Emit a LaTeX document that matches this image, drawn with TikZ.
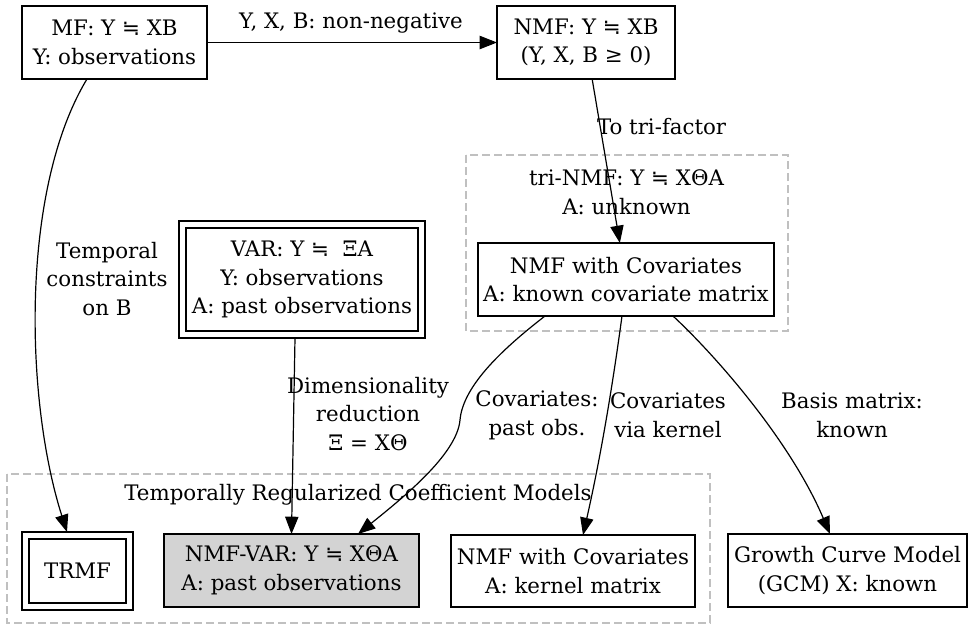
\documentclass[tikz,border=0pt]{standalone}
\usepackage{fontspec}
\setmainfont{DejaVu Serif}
\newfontfamily\symfont{DejaVu Sans}
\newcommand{\apx}{{\symfont ≒}}
\usetikzlibrary{arrows.meta,calc}
\definecolor{clgray}{HTML}{C0C0C0}
\definecolor{boxgray}{HTML}{D3D3D3}
\begin{document}
\begin{tikzpicture}[x=0.75pt,y=-0.75pt,
  every node/.style={font=\fontsize{16pt}{21.5pt}\selectfont, align=center, inner sep=0pt, outer sep=0pt},
  box/.style={draw, line width=0.9pt, rectangle},
  dbox/.style={draw, line width=0.9pt, rectangle, double, double distance=4.3pt},
  cluster/.style={draw=clgray, line width=0.8pt, dash pattern=on 6pt off 3pt},
  arr/.style={line width=0.9pt, -{Triangle[length=13pt,width=10pt]}},
  lbl/.style={}
]
\useasboundingbox (0,0) rectangle (971,626);
% clusters
\draw[cluster] (466,155) rectangle (788,331);
\draw[cluster] (7,474) rectangle (710,623);
\node[lbl] (trilbl) at (626.5,192.5) {tri-NMF: Y \apx{} XΘA\\A: unknown};
\node[lbl] (trcmlbl) at (358,495) {Temporally Regularized Coefficient Models};
% nodes
\node[box, minimum width=185*0.75pt, minimum height=73*0.75pt] (mf) at (114.5,42.5) {MF: Y \apx{} XB\\Y: observations};
\node[box, minimum width=178*0.75pt, minimum height=73*0.75pt] (nmf) at (586,42.5) {NMF: Y \apx{} XB\\(Y, X, B ≥ 0)};
\node[box, minimum width=296*0.75pt, minimum height=73*0.75pt] (nmfcov) at (626,279.5) {NMF with Covariates\\A: known covariate matrix};
\node[dbox, minimum width=239*0.75pt, minimum height=110*0.75pt] (var) at (302,279.5) {VAR: Y \apx{}\ \ ΞA\\Y: observations\\A: past observations};
\node[dbox, minimum width=104*0.75pt, minimum height=71*0.75pt] (trmf) at (77.5,571) {TRMF};
\node[box, fill=boxgray, minimum width=255*0.75pt, minimum height=73*0.75pt] (nmfvar) at (291.5,570.5) {NMF-VAR: Y \apx{} XΘA\\A: past observations};
\node[box, minimum width=244*0.75pt, minimum height=72*0.75pt] (kernel) at (573,571) {NMF with Covariates\\A: kernel matrix};
\node[box, minimum width=239*0.75pt, minimum height=73*0.75pt] (gcm) at (847.5,570.5) {Growth Curve Model\\(GCM) X: known};
% edges
\draw[arr] (mf) -- (nmf);
\node[lbl] (l1) at (351,23) {Y, X, B: non-negative};
\draw[arr] (nmf) -- (nmfcov);
\node[lbl, anchor=west] (l2) at (597,127) {To tri-factor};
\draw[arr] ($(mf.south)+(-27.5,0)$) .. controls +(-67,111) and +(-42,-132) .. ($(trmf.north)+(-10.5,-3.5)$);
\node[lbl] (l3) at (107,279) {Temporal\\constraints\\on B};
\draw[arr] ($(var.south)+(-7,3.5)$) -- (nmfvar.north);
\node[lbl] (l4) at (368,414) {Dimensionality\\reduction\\Ξ = XΘ};
\draw[arr] ($(nmfcov.south)+(-81,0)$) .. controls (505,347) and (463,385) .. (460,420) .. controls (457,455) and (400,500) .. ($(nmfvar.north)+(66.5,0)$);
\node[lbl] (l5) at (537,415) {Covariates:\\past obs.};
\draw[arr] ($(nmfcov.south)+(-4,0)$) .. controls (612,390) and (600,460) .. ($(kernel.north)+(10,0)$);
\node[lbl] (l6) at (668,415) {Covariates\\via kernel};
\draw[arr] ($(nmfcov.south)+(47,0)$) .. controls (715,355) and (790,440) .. ($(gcm.north)+(-17.5,0)$);
\node[lbl] (l7) at (852,415) {Basis matrix:\\known};
\end{tikzpicture}
\end{document}
